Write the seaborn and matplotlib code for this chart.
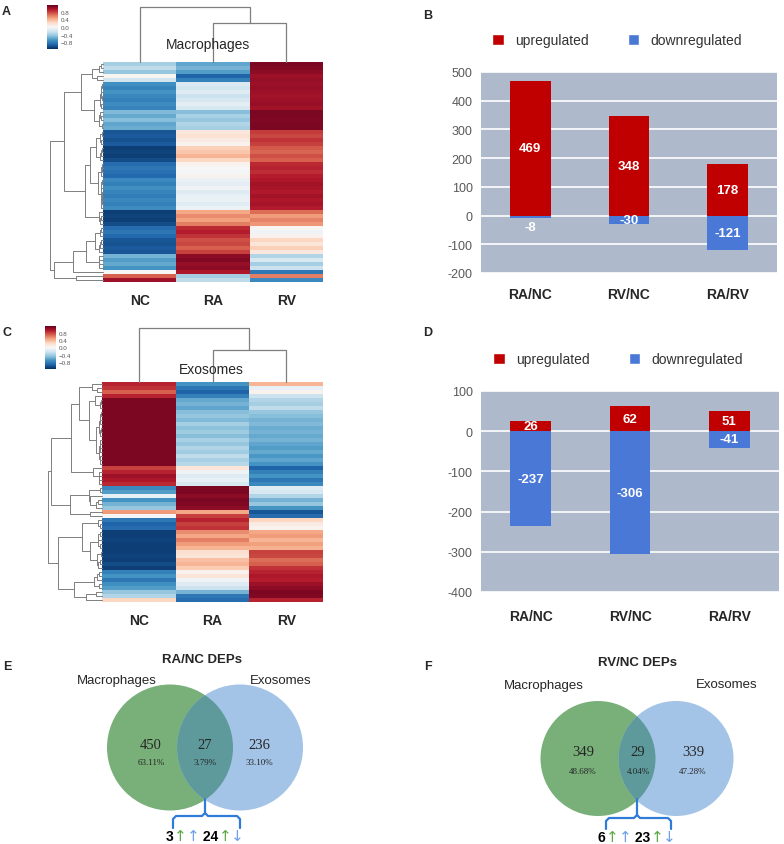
import numpy as np
import pandas as pd
import matplotlib
matplotlib.use("Agg")
import matplotlib.pyplot as plt
from matplotlib.patches import Circle, Patch
import seaborn as sns

sns.set_style("white")
plt.rcParams["font.family"] = ["Liberation Sans", "DejaVu Sans"]
plt.rcParams["axes.unicode_minus"] = False

# ---------------- data ----------------
groups = ["NC", "RA", "RV"]

# row-scaled protein abundance, macrophages (NC, RA, RV)
macrophage_rows = [
    [-0.40, -0.62, 1.10], [-0.30, -0.55, 1.08], [-0.45, -0.65, 1.05],
    [0.02, -0.95, 1.00],
    [-0.22, -0.80, 1.02],
    [-0.72, -0.18, 1.00], [-0.78, -0.22, 1.02], [-0.70, -0.15, 1.00], [-0.76, -0.25, 0.98],
    [-0.80, -0.20, 1.00], [-0.74, -0.12, 1.02], [-0.78, -0.20, 0.98],
    [-0.52, -0.50, 1.10], [-0.60, -0.38, 1.10], [-0.50, -0.45, 1.08], [-0.62, -0.35, 1.10],
    [-0.58, -0.40, 1.10],
    [-1.00, 0.12, 0.82], [-0.98, 0.18, 0.78], [-1.02, 0.10, 0.85], [-0.98, 0.05, 0.80],
    [-1.10, 0.28, 0.72], [-1.08, 0.32, 0.68], [-1.10, 0.40, 0.75], [-1.05, 0.25, 0.70],
    [-0.90, 0.05, 0.88], [-0.85, 0.00, 0.90], [-0.88, -0.02, 0.86], [-0.92, 0.04, 0.92],
    [-0.75, -0.08, 0.95], [-0.80, -0.12, 0.98], [-0.72, -0.05, 0.96], [-0.78, -0.15, 0.94],
    [-0.82, -0.10, 0.98], [-0.76, -0.08, 0.95], [-0.80, -0.14, 0.97], [-0.74, -0.06, 0.93],
    [-1.10, 0.45, 0.65], [-1.08, 0.55, 0.50], [-1.10, 0.48, 0.58], [-1.05, 0.60, 0.52],
    [-0.90, 0.88, 0.02], [-0.85, 0.92, -0.05], [-0.92, 0.85, 0.05],
    [-1.00, 0.75, 0.25], [-1.02, 0.78, 0.15], [-0.98, 0.70, 0.28], [-1.00, 0.80, 0.12],
    [-0.55, 1.05, -0.35], [-0.65, 1.08, -0.20], [-0.60, 1.02, -0.40], [-0.70, 1.05, -0.25],
    [0.00, 0.95, -0.85],
    [0.70, -0.40, 0.60], [1.00, -0.30, -0.75],
]

# row-scaled protein abundance, exosomes (NC, RA, RV)
exosome_rows = [
    [0.90, -0.70, 0.40],
    [0.85, -0.85, -0.10], [0.70, -0.95, 0.05], [0.90, -0.80, -0.25],
    [1.10, -0.60, -0.35], [1.10, -0.55, -0.40], [1.10, -0.62, -0.30], [1.10, -0.50, -0.45],
    [1.10, -0.45, -0.50], [1.10, -0.52, -0.55], [1.10, -0.40, -0.52], [1.10, -0.48, -0.58],
    [1.10, -0.42, -0.55], [1.10, -0.50, -0.60], [1.10, -0.38, -0.55], [1.10, -0.45, -0.62],
    [1.10, -0.35, -0.65], [1.10, -0.42, -0.60], [1.10, -0.30, -0.68], [1.10, -0.38, -0.62],
    [1.10, -0.32, -0.70],
    [0.80, 0.15, -0.95], [0.90, -0.05, -0.80], [1.00, -0.15, -0.70], [0.95, -0.10, -0.85],
    [0.88, -0.20, -0.75],
    [-0.75, 1.10, -0.15], [-0.65, 1.10, -0.20], [-0.10, 1.05, -0.35], [-0.70, 1.10, -0.55],
    [-0.55, 1.08, -0.45], [-0.45, 1.05, -0.70],
    [0.50, 0.45, -1.00], [0.00, 0.80, -0.90],
    [-0.85, 0.90, 0.25], [-0.95, 0.80, 0.10], [-0.90, 0.85, 0.05],
    [-1.10, 0.55, 0.45], [-1.10, 0.45, 0.50], [-1.08, 0.60, 0.40], [-1.10, 0.50, 0.48],
    [-1.10, 0.40, 0.42],
    [-1.10, 0.20, 0.80], [-1.08, 0.15, 0.78], [-1.10, 0.35, 0.65], [-1.05, 0.40, 0.70],
    [-1.10, 0.30, 0.85],
    [-0.80, 0.05, 0.90], [-0.70, 0.15, 0.95], [-0.85, -0.05, 0.92], [-0.72, -0.15, 1.00],
    [-0.65, -0.25, 1.05],
    [-0.45, -0.55, 1.10], [-0.35, -0.85, 1.08],
    [0.25, -0.90, 0.90],
]

comparisons = ["RA/NC", "RV/NC", "RA/RV"]
mac_up = [469, 348, 178]
mac_down = [-8, -30, -121]
exo_up = [26, 62, 51]
exo_down = [-237, -306, -41]

venn_titles = ["RA/NC DEPs", "RV/NC DEPs"]
venn_sets = ["Macrophages", "Exosomes"]
venn_counts = [[450, 27, 236], [349, 29, 339]]
venn_pct = [["63.11%", "3.79%", "33.10%"], ["48.68%", "4.04%", "47.28%"]]
shared_split = [[3, 24], [6, 23]]

RED = "#C00000"
BLUE = "#4A78D6"
PANEL_BG = "#AEB9CB"

W, H = 784, 845
fig = plt.figure(figsize=(W / 100, H / 100), dpi=100)


def px_axes(x0, y0, x1, y1):
    return fig.add_axes([x0 / W, 1 - y1 / H, (x1 - x0) / W, (y1 - y0) / H])


def chain_links(X):
    # complete-linkage clustering that only joins neighbours, so leaves keep their order
    D = np.sqrt(((X[:, None, :] - X[None, :, :]) ** 2).sum(-1))
    clusters = [[i] for i in range(len(X))]
    nodes = [(i + 0.5, 0.0) for i in range(len(X))]
    links = []
    while len(clusters) > 1:
        d = [D[np.ix_(clusters[k], clusters[k + 1])].max() for k in range(len(clusters) - 1)]
        k = int(np.argmin(d))
        (p1, h1), (p2, h2) = nodes[k], nodes[k + 1]
        h = max(d[k], h1, h2)
        links.append((p1, h1, p2, h2, h))
        clusters[k:k + 2] = [clusters[k] + clusters[k + 1]]
        nodes[k:k + 2] = [((p1 + p2) / 2, h)]
    return links


def draw_heatmap(rows, heat_box, dendro_left, dendro_top, cbar_box, title, title_x, title_y):
    data = pd.DataFrame(rows, columns=groups)
    x0, y0, x1, y1 = heat_box
    ax = px_axes(*heat_box)
    cax = px_axes(*cbar_box)
    sns.heatmap(data, ax=ax, cmap="RdBu_r", vmin=-1.17, vmax=1.17, cbar_ax=cax,
                xticklabels=True, yticklabels=False,
                cbar_kws={"ticks": [-0.8, -0.4, 0, 0.4, 0.8]})
    ax.set_xlabel("")
    ax.set_ylabel("")
    ax.tick_params(axis="x", length=0, pad=8, labelsize=10)
    for t in ax.get_xticklabels():
        t.set_fontweight("bold")
    cbar = ax.collections[0].colorbar
    cbar.outline.set_visible(False)
    cax.tick_params(length=0, labelsize=4.5, colors="#555555", pad=2)
    cax.set_yticklabels(["\u22120.8", "\u22120.4", "0.0", "0.4", "0.8"])

    X = data.values
    # row dendrogram
    rax = px_axes(dendro_left, y0, x0, y1)
    links = chain_links(X)
    for p1, h1, p2, h2, h in links:
        rax.plot([h1, h, h, h2], [p1, p1, p2, p2], color="#7f7f7f", lw=0.7, clip_on=False)
    rax.set_xlim(links[-1][4], 0)
    rax.set_ylim(len(X), 0)
    rax.axis("off")

    # column dendrogram
    kax = px_axes(x0, dendro_top, x1, y0)
    links = chain_links(X.T)
    for p1, h1, p2, h2, h in links:
        kax.plot([p1, p1, p2, p2], [h1, h, h, h2], color="#7f7f7f", lw=0.9, clip_on=False)
    kax.set_xlim(0, len(groups))
    kax.set_ylim(0, links[-1][4])
    kax.axis("off")
    fig.text(title_x / W, 1 - title_y / H, title, fontsize=10, ha="center", va="center")


def draw_bars(box, up, down, ylim, legend_x, xpad):
    ax = px_axes(*box)
    ax.set_facecolor(PANEL_BG)
    sns.barplot(x=comparisons, y=up, color=RED, width=0.41, saturation=1, errorbar=None,
                linewidth=0, ax=ax)
    sns.barplot(x=comparisons, y=down, color=BLUE, width=0.41, saturation=1, errorbar=None,
                linewidth=0, ax=ax)
    ax.set_ylim(*ylim)
    ax.set_yticks(np.arange(ylim[0], ylim[1] + 1, 100))
    ax.yaxis.grid(True, color="white", lw=1.2)
    ax.set_axisbelow(True)
    for s in ax.spines.values():
        s.set_visible(False)
    ax.tick_params(axis="y", length=0, labelsize=9, labelcolor="#595959", pad=6)
    ax.tick_params(axis="x", length=0, labelsize=10, pad=xpad)
    for t in ax.get_xticklabels():
        t.set_fontweight("bold")
    ax.set_xlabel("")
    ax.set_ylabel("")
    for i, v in enumerate(up):
        ax.text(i, v / 2, str(v), color="white", fontweight="bold", fontsize=9.5,
                ha="center", va="center")
    for i, v in enumerate(down):
        if abs(v) >= 20:
            ax.text(i, v / 2, str(v), color="white", fontweight="bold", fontsize=9.5,
                    ha="center", va="center")
        else:
            ax.annotate(str(v), (i, v), xytext=(0, -2.5), textcoords="offset points",
                        color="white", fontweight="bold", fontsize=9.5, ha="center", va="top")
    handles = [Patch(facecolor=RED, label="upregulated"), Patch(facecolor=BLUE, label="downregulated")]
    ax.legend(handles=handles, loc="center", bbox_to_anchor=(legend_x, 1 + 32 / (box[3] - box[1])),
              ncol=2, frameon=False, fontsize=10, handlelength=0.85, handleheight=0.85,
              handletextpad=0.8, columnspacing=2.8, labelcolor="#333333")


def draw_venn(box, idx, title_xy, left_xy, right_xy, c_green, c_blue, r, num_y, pct_y,
              num_x, brace, text_y):
    x0, y0, x1, y1 = box
    ax = px_axes(*box)
    ax.set_xlim(x0, x1)
    ax.set_ylim(y1, y0)
    ax.axis("off")
    g = Circle(c_green, r, facecolor="#79B07A", edgecolor="none")
    b = Circle(c_blue, r, facecolor="#A3C4E7", edgecolor="none")
    ax.add_patch(g)
    ax.add_patch(b)
    ov = Circle(c_blue, r, facecolor="#5E9A9C", edgecolor="none")
    ax.add_patch(ov)
    ov.set_clip_path(g)

    ax.text(*title_xy, venn_titles[idx], fontsize=9.5, fontweight="bold", ha="center", va="center")
    ax.text(*left_xy, venn_sets[0], fontsize=9.5, ha="center", va="center")
    ax.text(*right_xy, venn_sets[1], fontsize=9.5, ha="center", va="center")
    for x, n, p in zip(num_x, venn_counts[idx], venn_pct[idx]):
        ax.text(x, num_y, str(n), fontsize=10.5, family="Liberation Serif", ha="center", va="center")
        ax.text(x, pct_y, p, fontsize=6.5, family="Liberation Serif", ha="center", va="center")

    # brace under the shared part
    xl, xc, xr, yt, ym, yb = brace
    k = 3
    ax.plot([xl, xl, xl + k, xc - k, xc, xc], [yb, ym + k, ym, ym, ym - k, yt],
            color="#2F7BD9", lw=1.6, solid_capstyle="round")
    ax.plot([xr, xr, xr - k, xc + k, xc], [yb, ym + k, ym, ym, ym - k],
            color="#2F7BD9", lw=1.6, solid_capstyle="round")

    up_n, down_n = shared_split[idx]
    pieces = [(str(up_n), "black", "bold", 10, "Liberation Sans"),
              ("\u2191", "#5DAA45", "normal", 11, "DejaVu Sans"),
              ("\u2191", "#6F9FE8", "normal", 11, "DejaVu Sans"),
              (" " + str(down_n), "black", "bold", 10, "Liberation Sans"),
              ("\u2191", "#5DAA45", "normal", 11, "DejaVu Sans"),
              ("\u2193", "#6F9FE8", "normal", 11, "DejaVu Sans")]
    renderer = fig.canvas.get_renderer()
    inv = ax.transData.inverted()
    x = 0.0
    texts = []
    for s, c, w, fs, fam in pieces:
        t = ax.text(x, text_y, s, color=c, fontweight=w, fontsize=fs, family=fam,
                    ha="left", va="center")
        bb = t.get_window_extent(renderer)
        x = inv.transform((bb.x1, bb.y0))[0]
        texts.append(t)
    shift = xc - x / 2
    for t in texts:
        px, py = t.get_position()
        t.set_position((px + shift, py))


# ---------------- panels ----------------
draw_heatmap(macrophage_rows, (103, 63, 323, 283), 50, 8, (47, 6, 58, 50),
             "Macrophages", 208, 45)
draw_heatmap(exosome_rows, (102, 383, 323, 603), 48, 329, (45, 327, 56, 370),
             "Exosomes", 211, 370)

draw_bars((481, 73, 777, 274), mac_up, mac_down, (-200, 500), 0.46, 10)
draw_bars((481, 392, 779, 593), exo_up, exo_down, (-400, 100), 0.46, 12)

draw_venn((0, 640, 392, 845), 0, (202, 660), (117, 681), (281, 681),
          (170, 748.5), (240, 748.5), 63, 746, 763, (151, 205, 259),
          (173, 205, 240, 800, 817, 829), 837)
draw_venn((400, 640, 784, 845), 1, (637, 663), (544, 686), (727, 685),
          (598, 759.5), (676, 759.5), 57.5, 753, 772, (583, 638, 693),
          (606, 637, 671, 800, 819, 830), 838)

for letter, x, y in [("A", 6, 12), ("B", 428, 16), ("C", 7, 333),
                     ("D", 428, 333), ("E", 7, 667), ("F", 428, 667)]:
    fig.text(x / W, 1 - y / H, letter, fontsize=9, fontweight="bold", ha="center", va="center")

fig.savefig("out.png", dpi=100)
